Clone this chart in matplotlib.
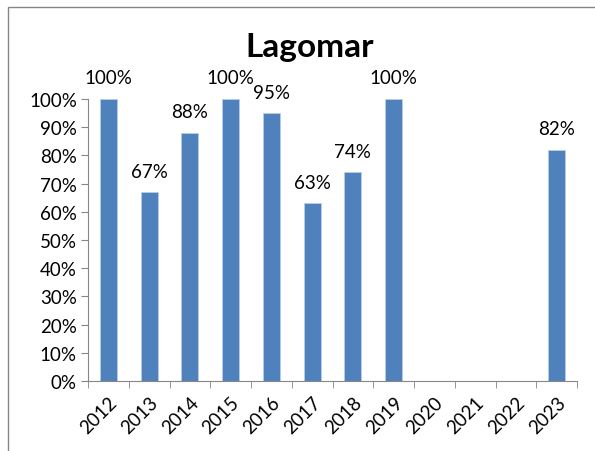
import matplotlib.pyplot as plt
import numpy as np
from matplotlib.patches import Rectangle

years = ['2012', '2013', '2014', '2015', '2016', '2017', '2018', '2019',
         '2020', '2021', '2022', '2023']
values = [100, 67, 88, 100, 95, 63, 74, 100, None, None, None, 82]

plt.rcParams['font.family'] = ['Lato', 'DejaVu Sans']
fs = 13.5

fig = plt.figure(figsize=(5.95, 4.52), dpi=100)
fig.patches.append(Rectangle((8 / 595, -0.1), 1.2, 1 - 8 / 452 + 0.1,
                             transform=fig.transFigure, fill=False,
                             edgecolor='#868686', linewidth=1))
ax = fig.add_axes([88 / 595, 1 - 382 / 452, (577 - 88) / 595, (382 - 100) / 452])

x = np.arange(len(years))
heights = [v if v is not None else 0 for v in values]
bars = ax.bar(x, heights, width=0.42, color='#4F81BD', edgecolor='#B9CDE5', linewidth=0.6)
for i, v in enumerate(values):
    if v is not None:
        ax.annotate(f'{v}%', (x[i], v), xytext=(0, 9), textcoords='offset points',
                    ha='center', va='bottom', fontsize=fs)

ax.set_xlim(-0.5, len(years) - 0.5)
ax.set_ylim(0, 100)
ax.set_yticks(range(0, 101, 10))
ax.set_yticklabels([f'{t}%' for t in range(0, 101, 10)], fontsize=fs)
ax.set_xticks(x)
ax.set_xticklabels(years, rotation=45, ha='right', rotation_mode='anchor', fontsize=fs)
ax.set_xticks(np.arange(-0.5, len(years)), minor=True)
ax.tick_params(axis='x', which='major', length=0, pad=9)
ax.tick_params(axis='x', which='minor', length=5, color='#868686')
ax.tick_params(axis='y', length=5, color='#868686', pad=3)

for s in ['top', 'right']:
    ax.spines[s].set_visible(False)
for s in ['left', 'bottom']:
    ax.spines[s].set_color('#868686')

fig.text(310 / 595, 1 - 48 / 452, 'Lagomar', ha='center', va='center',
         fontsize=24, fontweight='bold')

fig.savefig('out.png', dpi=100)
